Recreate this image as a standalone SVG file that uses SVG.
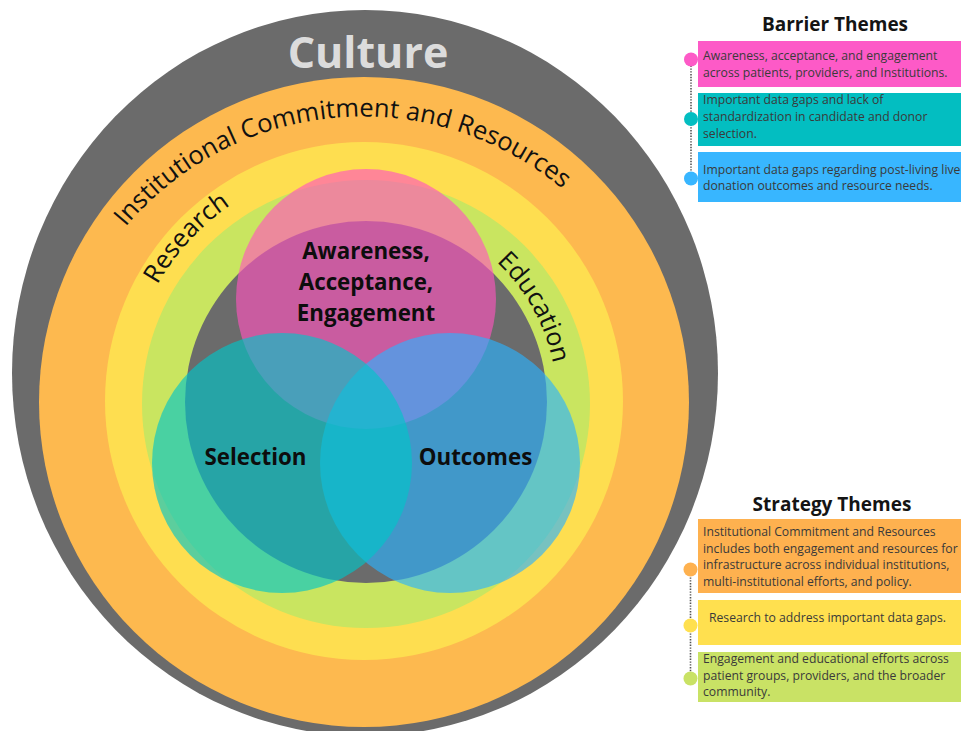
<svg xmlns="http://www.w3.org/2000/svg" xmlns:xlink="http://www.w3.org/1999/xlink" width="961" height="731" viewBox="0 0 961 731">
  <style>
    .band { font-family: "Open Sans", "Liberation Sans", sans-serif; font-size: 25.5px; fill: #111; }
    .venn { font-family: "Open Sans", "Liberation Sans", sans-serif; font-size: 22.3px; font-weight: 700; fill: #0d0d0d; text-anchor: middle; }
    .title { font-family: "Open Sans", "Liberation Sans", sans-serif; font-size: 19px; font-weight: 700; fill: #141414; text-anchor: middle; }
    .legend { font-family: "Open Sans", "Liberation Sans", sans-serif; font-size: 12.2px; fill: #3a3a3a; }
    .overlay { fill-opacity: 0.64; }
    .dots { fill: none; stroke: #555; stroke-width: 1.6; stroke-dasharray: 1.4 1.4; }
  </style>
  <defs>
    <path id="arc-institutional" d="M 53.7 453.9 A 310 310 0 0 1 672.3 400.1"/>
    <path id="arc-research" d="M 203.7 577.7 A 238 238 0 0 1 526.3 226.3"/>
    <path id="arc-education" d="M 271.3 234.3 A 192 192 0 0 1 458.7 569.7"/>
  </defs>

  <rect width="961" height="731" fill="#ffffff"/>

  <!-- outer rings -->
  <g id="culture">
    <ellipse cx="365" cy="373" rx="353" ry="363" fill="#6b6b6b"/>
    <text x="368" y="68" text-anchor="middle" font-family="'Open Sans', 'Liberation Sans', sans-serif" font-size="43" font-weight="700" fill="#dcdcdc">Culture</text>
  </g>

  <g id="institutional">
    <circle cx="364" cy="402" r="325" fill="#fdb94f"/>
    <text class="band"><textPath href="#arc-institutional" xlink:href="#arc-institutional" startOffset="50%" text-anchor="middle">Institutional Commitment and Resources</textPath></text>
  </g>

  <g id="research">
    <circle cx="364" cy="401" r="259" fill="#fede50"/>
    <text class="band" font-size="27"><textPath href="#arc-research" xlink:href="#arc-research" startOffset="50%" text-anchor="middle">Research</textPath></text>
  </g>

  <g id="education">
    <circle cx="366" cy="404" r="224" fill="#c9e560"/>
    <text class="band" font-size="25.5"><textPath href="#arc-education" xlink:href="#arc-education" startOffset="50%" text-anchor="middle">Education</textPath></text>
  </g>

  <g id="core">
    <circle cx="366" cy="402" r="181" fill="#6b6b6b"/>
  </g>

  <!-- three overlapping themes -->
  <g id="awareness">
    <circle class="overlay" cx="366" cy="299" r="130" fill="#ff55bf"/>
  </g>
  <g id="outcomes">
    <circle class="overlay" cx="450" cy="463" r="130" fill="#2bb2ff"/>
  </g>
  <g id="selection">
    <circle class="overlay" cx="282" cy="463" r="130" fill="#00c5c8"/>
  </g>

  <g id="venn-labels">
    <text class="venn" x="366" y="259">Awareness,</text>
    <text class="venn" x="366" y="290">Acceptance,</text>
    <text class="venn" x="366" y="321">Engagement</text>
    <text class="venn" x="255.5" y="465">Selection</text>
    <text class="venn" x="475.5" y="465">Outcomes</text>
  </g>

  <!-- connectors: dotted timelines of the two legends -->
  <g id="connectors">
    <line class="dots" x1="691" y1="60" x2="691" y2="178"/>
    <line class="dots" x1="690.5" y1="569" x2="690.5" y2="678"/>
  </g>

  <!-- barrier legend -->
  <g id="barrier-title">
    <text class="title" x="835" y="31">Barrier Themes</text>
  </g>
  <g id="barrier-awareness">
    <rect x="698" y="41" width="263" height="46" fill="#fd5ac7"/>
    <circle cx="691" cy="59.5" r="7" fill="#fd5ac7"/>
    <text class="legend" x="703" y="60">Awareness, acceptance, and engagement</text>
    <text class="legend" x="703" y="77">across patients, providers, and Institutions.</text>
  </g>
  <g id="barrier-selection">
    <rect x="698" y="93" width="263" height="53" fill="#03bec1"/>
    <circle cx="691" cy="119" r="7" fill="#03bec1"/>
    <text class="legend" x="703" y="104">Important data gaps and lack of</text>
    <text class="legend" x="703" y="121">standardization in candidate and donor</text>
    <text class="legend" x="703" y="138">selection.</text>
  </g>
  <g id="barrier-outcomes">
    <rect x="698" y="152" width="263" height="50" fill="#38b6ff"/>
    <circle cx="691" cy="178.5" r="7" fill="#38b6ff"/>
    <text class="legend" x="703" y="173.5">Important data gaps regarding post-living liver</text>
    <text class="legend" x="703" y="190">donation outcomes and resource needs.</text>
  </g>

  <!-- strategy legend -->
  <g id="strategy-title">
    <text class="title" x="832" y="511">Strategy Themes</text>
  </g>
  <g id="strategy-institutional">
    <rect x="698" y="519" width="263" height="74" fill="#feb14f"/>
    <circle cx="690.5" cy="569.5" r="7" fill="#feb14f"/>
    <text class="legend" x="703" y="536">Institutional Commitment and Resources</text>
    <text class="legend" x="703" y="552.7">includes both engagement and resources for</text>
    <text class="legend" x="703" y="569.4">infrastructure across individual institutions,</text>
    <text class="legend" x="703" y="586">multi-institutional efforts, and policy.</text>
  </g>
  <g id="strategy-research">
    <rect x="698" y="600" width="263" height="45" fill="#ffe04f"/>
    <circle cx="690.5" cy="625.5" r="7" fill="#ffe04f"/>
    <text class="legend" x="709" y="622">Research to address important data gaps.</text>
  </g>
  <g id="strategy-education">
    <rect x="698" y="652" width="263" height="50" fill="#c9e265"/>
    <circle cx="690.5" cy="678.5" r="7" fill="#c9e265"/>
    <text class="legend" x="703" y="663">Engagement and educational efforts across</text>
    <text class="legend" x="703" y="679.5">patient groups, providers, and the broader</text>
    <text class="legend" x="703" y="696">community.</text>
  </g>
</svg>
